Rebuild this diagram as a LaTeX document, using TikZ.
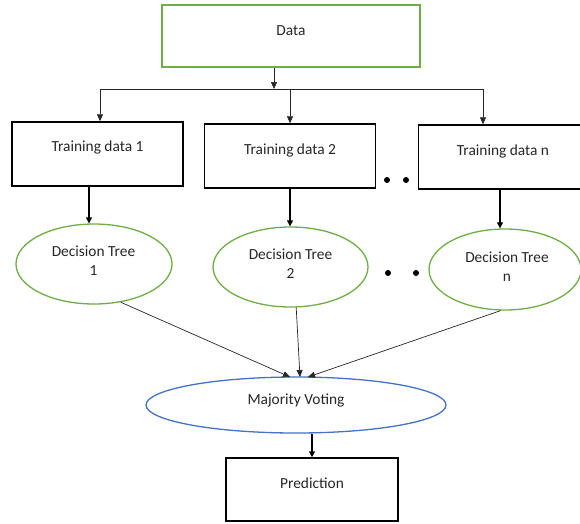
\documentclass[tikz,border=0pt]{standalone}
\usepackage{fontspec}
\setmainfont{Carlito}
\usetikzlibrary{arrows.meta,shapes.geometric}
\definecolor{leaf}{HTML}{70AD47}
\definecolor{vote}{HTML}{4472C4}
\tikzset{
  every node/.style={font=\fontsize{15.4}{18}\selectfont, text=black!85, align=center},
  greenbox/.style={draw=leaf, line width=1.4pt, minimum width=258pt, minimum height=62pt, inner sep=0pt},
  blackbox/.style={draw=black, line width=1.4pt, minimum width=171pt, minimum height=64pt, inner sep=0pt},
  tree/.style={ellipse, draw=leaf, line width=1.3pt, minimum width=156pt, minimum height=80pt, inner sep=0pt},
  voter/.style={ellipse, draw=vote, line width=1.3pt, minimum width=300pt, minimum height=56pt, inner sep=0pt},
  link/.style={draw=black!85, line width=0.7pt, -{Triangle[length=7pt,width=6pt]}},
  thicklink/.style={draw=black, line width=1.6pt, -{Triangle[length=6pt,width=6pt]}},
  dotmark/.style={circle, fill=black, minimum size=6pt, inner sep=0pt},
}
\begin{document}
\begin{tikzpicture}[x=1pt,y=-1pt]
\useasboundingbox (0,0) rectangle (580,523);
% source data
\node[greenbox] (data) at (291,36) {};
\node at (291,31) {Data};
% splitting bus
\coordinate (split) at (274,89);
\coordinate (busL) at (100,89);
\coordinate (busM) at (290,89);
\coordinate (busR) at (483,89);
% columns of the tree links
\coordinate (c1) at (89,0);
\coordinate (c2) at (290,0);
\coordinate (c3) at (500,0);
% training subsets
\node[blackbox] (td1) at (97.5,154) {};
\node at (97.5,147) {Training data 1};
\node[blackbox] (td2) at (290,156) {};
\node at (290,150) {Training data 2};
\node[blackbox, minimum width=165pt] (tdn) at (501,157) {};
\node at (503,151) {Training data n};
\node[dotmark] (d1) at (387,180) {};
\node[dotmark] (d2) at (406,180) {};
% decision trees
\node[tree] (t1) at (94,264) {};
\node at (93.5,261) {Decision Tree\\[1pt]1};
\node[tree, minimum width=155pt] (t2) at (290.5,267) {};
\node at (290.5,264) {Decision Tree\\[1pt]2};
\node[tree, minimum width=152pt, minimum height=81pt] (tn) at (505,269.5) {};
\node at (507,267) {Decision Tree\\[1pt]n};
\node[dotmark] (d3) at (388,273) {};
\node[dotmark] (d4) at (416,273) {};
% aggregation and output
\node[voter] (mv) at (296,405) {};
\node at (296,400) {Majority Voting};
\node[blackbox, minimum width=172pt, minimum height=63pt] (pred) at (312,489.5) {};
\node at (312,483) {Prediction};
\coordinate (v1) at (290,377);
\coordinate (v2) at (300,377);
\coordinate (v3) at (308,377);
% connectors
\draw[link] (data.south -| split) -- (split);
\draw[draw=black!85, line width=0.7pt] (busL) -- (busR);
\draw[link] (busL) -- (td1.north -| busL);
\draw[link] (busM) -- (td2.north -| busM);
\draw[link] (busR) -- (tdn.north -| busR);
\draw[thicklink, line width=1.1pt] (td1.south -| c1) -- (t1.north -| c1);
\draw[thicklink, line width=1.1pt] (td2.south -| c2) -- (t2.north -| c2);
\draw[thicklink, line width=1.1pt] (tdn.south -| c3) -- (tn.north -| c3);
\draw[link] (t1.-55) -- (v1);
\draw[link] (t2.-82) -- (v2);
\draw[link] (tn.-96) -- (v3);
\draw[thicklink] (mv.south -| pred.north) -- (pred.north);
\end{tikzpicture}
\end{document}
